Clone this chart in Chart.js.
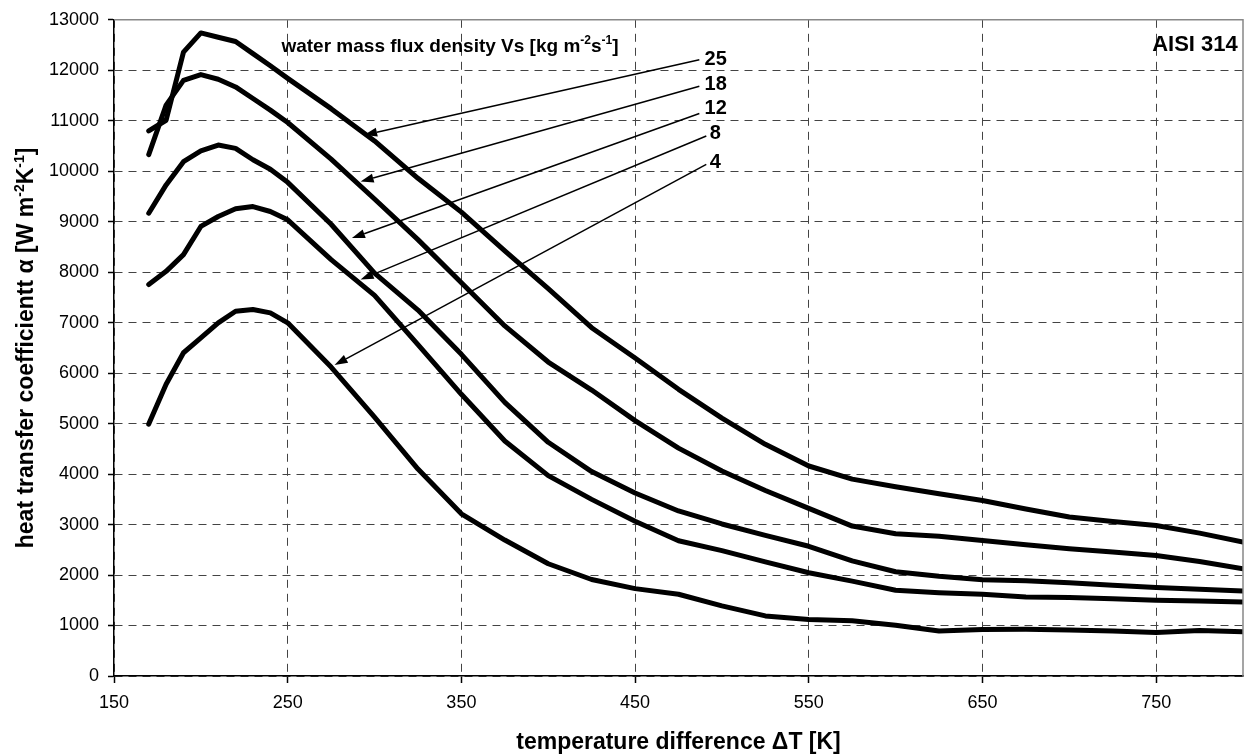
<!DOCTYPE html>
<html>
<head>
<meta charset="utf-8">
<script src="https://cdn.jsdelivr.net/npm/chart.js@4.4.1/dist/chart.umd.min.js"></script>
<style>
  body { margin: 0; background: #fff; }
  canvas { display: block; }
</style>
</head>
<body>
<canvas id="chartId" width="1245" height="754"></canvas>
<script>
// temperature difference dT [K]
const deltaT = [170, 180, 190, 200, 210, 220, 230, 240, 250, 275, 300, 325, 350, 375, 400, 425, 450, 475, 500, 525, 550, 575, 600, 625, 650, 675, 700, 725, 750, 775, 800];

// heat transfer coefficient [W m-2 K-1], one array per water mass flux density
const alpha25 = [10800, 11010, 12360, 12740, 12655, 12570, 12330, 12090, 11840, 11240, 10600, 9860, 9190, 8420, 7675, 6900, 6300, 5680, 5110, 4590, 4160, 3900, 3750, 3610, 3476, 3310, 3150, 3060, 2980, 2830, 2655];
const alpha18 = [10330, 11310, 11800, 11914, 11822, 11670, 11440, 11210, 10965, 10240, 9450, 8645, 7790, 6935, 6220, 5665, 5060, 4515, 4060, 3675, 3320, 2970, 2818, 2770, 2686, 2600, 2521, 2455, 2389, 2268, 2126];
const alpha12 = [9168, 9729, 10190, 10401, 10519, 10452, 10228, 10040, 9780, 8950, 7980, 7250, 6372, 5420, 4630, 4050, 3625, 3270, 3012, 2787, 2570, 2280, 2065, 1975, 1909, 1888, 1846, 1798, 1751, 1718, 1685];
const alpha8 = [7755, 8017, 8347, 8906, 9103, 9255, 9300, 9202, 9037, 8250, 7540, 6566, 5581, 4657, 3970, 3499, 3065, 2680, 2485, 2262, 2045, 1880, 1700, 1650, 1619, 1565, 1554, 1530, 1501, 1485, 1468];
const alpha4 = [4990, 5779, 6404, 6700, 6996, 7227, 7261, 7194, 6996, 6120, 5130, 4100, 3213, 2693, 2224, 1912, 1731, 1620, 1388, 1190, 1120, 1093, 1006, 890, 922, 925, 910, 890, 860, 900, 876];

const seriesNames = ['25', '18', '12', '8', '4'];
const seriesValues = [alpha25, alpha18, alpha12, alpha8, alpha4];

const xTickValues = [150, 250, 350, 450, 550, 650, 750];

// arrows from the flux labels to the curves (data units)
const arrowFromX = [487, 487, 487, 491, 491];
const arrowFromY = [12210, 11684, 11143, 10697, 10136];
const arrowToX = [294, 292, 287, 292, 277];
const arrowToY = [10717, 9795, 8675, 7853, 6161];
const labelX = [490, 490, 490, 493, 493];
const labelY = [12213, 11720, 11245, 10752, 10170];

const FONT = '"Liberation Sans", Arial, sans-serif';

function drawRich(ctx, parts, x, y, size, align) {
  const supSize = Math.round(size * 0.62);
  let total = 0;
  parts.forEach(p => {
    ctx.font = 'bold ' + (p.sup ? supSize : size) + 'px ' + FONT;
    p.w = ctx.measureText(p.t).width;
    total += p.w;
  });
  let cx = x;
  if (align === 'center') cx = x - total / 2;
  if (align === 'right') cx = x - total;
  ctx.textAlign = 'left';
  ctx.textBaseline = 'alphabetic';
  parts.forEach(p => {
    ctx.font = 'bold ' + (p.sup ? supSize : size) + 'px ' + FONT;
    ctx.fillText(p.t, cx, p.sup ? y - size * 0.4 : y);
    cx += p.w;
  });
}

const annotationPlugin = {
  id: 'annotations',
  afterDatasetsDraw(chart) {
    const ctx = chart.ctx;
    const xs = chart.scales.x;
    const ys = chart.scales.y;
    const area = chart.chartArea;
    ctx.save();

    // top and right frame
    ctx.strokeStyle = '#888';
    ctx.lineWidth = 1.5;
    ctx.beginPath();
    ctx.moveTo(area.left, area.top);
    ctx.lineTo(area.right, area.top);
    ctx.lineTo(area.right, area.bottom);
    ctx.stroke();

    // arrows
    ctx.strokeStyle = '#000';
    ctx.fillStyle = '#000';
    ctx.lineWidth = 1.5;
    for (let i = 0; i < seriesNames.length; i++) {
      const fx = xs.getPixelForValue(arrowFromX[i]);
      const fy = ys.getPixelForValue(arrowFromY[i]);
      const tx = xs.getPixelForValue(arrowToX[i]);
      const ty = ys.getPixelForValue(arrowToY[i]);
      const a = Math.atan2(ty - fy, tx - fx);
      const L = 13, W = 4.5;
      const bx = tx - L * Math.cos(a), by = ty - L * Math.sin(a);
      ctx.beginPath();
      ctx.moveTo(fx, fy);
      ctx.lineTo(bx, by);
      ctx.stroke();
      ctx.beginPath();
      ctx.moveTo(tx, ty);
      ctx.lineTo(bx + W * Math.sin(a), by - W * Math.cos(a));
      ctx.lineTo(bx - W * Math.sin(a), by + W * Math.cos(a));
      ctx.closePath();
      ctx.fill();

      ctx.font = 'bold 20px ' + FONT;
      ctx.textAlign = 'left';
      ctx.textBaseline = 'middle';
      ctx.fillText(seriesNames[i], xs.getPixelForValue(labelX[i]), ys.getPixelForValue(labelY[i]));
    }

    // legend title
    drawRich(ctx, [
      { t: 'water mass flux density Vs [kg m' }, { t: '-2', sup: true },
      { t: 's' }, { t: '-1', sup: true }, { t: ']' }
    ], xs.getPixelForValue(246.4), ys.getPixelForValue(12362), 19, 'left');

    // material
    ctx.font = 'bold 22px ' + FONT;
    ctx.textAlign = 'right';
    ctx.textBaseline = 'alphabetic';
    ctx.fillText('AISI 314', xs.getPixelForValue(797), ys.getPixelForValue(12375));

    // x axis title
    ctx.font = 'bold 23px ' + FONT;
    ctx.textAlign = 'center';
    ctx.fillText('temperature difference \u0394T [K]', (area.left + area.right) / 2, 749);

    // y axis title
    ctx.translate(24, (area.top + area.bottom) / 2);
    ctx.rotate(-Math.PI / 2);
    drawRich(ctx, [
      { t: 'heat transfer coefficientt \u03b1 [W m' }, { t: '-2', sup: true },
      { t: 'K' }, { t: '-1', sup: true }, { t: ']' }
    ], 0, 9, 23, 'center');

    ctx.restore();
  }
};

const tickFont = { family: FONT, size: 18 };

const chrt = document.getElementById('chartId').getContext('2d');
window.heatChart = new Chart(chrt, {
  type: 'line',
  data: {
    datasets: seriesValues.map((vals, i) => ({
      label: seriesNames[i],
      data: deltaT.map((t, j) => ({ x: t, y: vals[j] })),
      borderColor: '#000',
      borderWidth: 5,
      pointRadius: 0,
      tension: 0,
      borderJoinStyle: 'round',
      borderCapStyle: 'round',
      fill: false
    }))
  },
  options: {
    responsive: false,
    animation: false,
    layout: { padding: { top: 18, right: 2, left: 0, bottom: 0 } },
    plugins: {
      legend: { display: false },
      tooltip: { enabled: false }
    },
    scales: {
      x: {
        type: 'linear',
        min: 150,
        max: 800,
        afterBuildTicks: s => { s.ticks = xTickValues.map(v => ({ value: v })); },
        afterFit: s => { s.height = 78; },
        ticks: { font: tickFont, color: '#000', padding: 9, autoSkip: false, maxRotation: 0, callback: v => String(v) },
        grid: { color: '#444', lineWidth: 1, tickLength: 7, tickColor: '#000', tickWidth: 1.5, tickBorderDash: [] },
        border: { color: '#000', width: 1.5, dash: [8, 6] }
      },
      y: {
        min: 0,
        max: 13000,
        afterFit: s => { s.width = 114; },
        ticks: { stepSize: 1000, font: tickFont, color: '#000', padding: 9, callback: v => String(v) },
        grid: { color: '#444', lineWidth: 1, tickLength: 6, tickColor: '#000', tickWidth: 1.5, tickBorderDash: [] },
        border: { color: '#000', width: 1.5, dash: [8, 6] }
      }
    }
  },
  plugins: [annotationPlugin]
});
</script>
</body>
</html>
